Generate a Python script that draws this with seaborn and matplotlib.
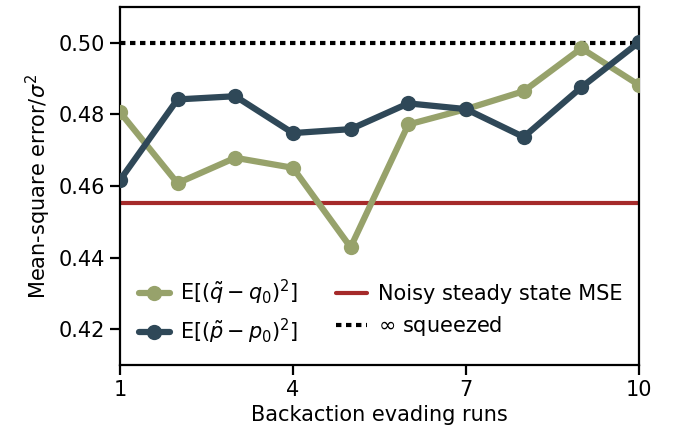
import matplotlib
matplotlib.use("Agg")
import matplotlib.pyplot as plt
import seaborn as sns
import pandas as pd
import numpy as np

runs = [1, 2, 3, 4, 5, 6, 7, 8, 9, 10]
q_mse = [0.4807, 0.4608, 0.4679, 0.4651, 0.4429, 0.4772, 0.4815, 0.4865, 0.4985, 0.4882]
p_mse = [0.4616, 0.4842, 0.4851, 0.4748, 0.4759, 0.4831, 0.4815, 0.4737, 0.4876, 0.5002]
steady_mse = 0.4552
squeezed_mse = 0.50
xticks = [1, 4, 7, 10]
yticks = [0.42, 0.44, 0.46, 0.48, 0.50]

sns.set_style("ticks", rc={'text.color': 'black', 'axes.labelcolor': 'black',
                           'xtick.color': 'black', 'ytick.color': 'black',
                           'axes.edgecolor': 'black'})
plt.rcParams['font.family'] = ['DejaVu Sans']
FS = 15
plt.rcParams['font.size'] = FS

green = "#97a26b"
blue = "#2f4858"
red = "#a52a2a"

fig = plt.figure(figsize=(6.77, 4.43), dpi=100)
ax = fig.add_axes([0.177, 0.176, 0.767, 0.808])

df = pd.DataFrame({"run": runs, "q": q_mse, "p": p_mse})
sns.lineplot(data=df, x="run", y="q", ax=ax, color=green, lw=4.5, marker="o",
             markersize=11, markeredgewidth=0, label=r"E$[(\tilde{q}-q_0)^2]$", zorder=3)
sns.lineplot(data=df, x="run", y="p", ax=ax, color=blue, lw=4.5, marker="o",
             markersize=11, markeredgewidth=0, label=r"E$[(\tilde{p}-p_0)^2]$", zorder=4)
ax.axhline(steady_mse, color=red, lw=3, label="Noisy steady state MSE", zorder=2)
ax.axhline(squeezed_mse, color="black", lw=3, ls=(0, (1.3, 1.1)), label=r"$\infty$ squeezed", zorder=2)

ax.set_xlim(1, 10)
ax.set_ylim(0.41, 0.51)
ax.set_xticks(xticks)
ax.set_yticks(yticks)
ax.set_yticklabels([f"{v:.2f}" for v in yticks])
ax.set_xlabel("Backaction evading runs", fontsize=FS)
ax.set_ylabel(r"Mean-square error/$\sigma^2$", fontsize=FS)
for s in ax.spines.values():
    s.set_linewidth(1.6)
ax.tick_params(width=1.6, length=7, labelsize=FS)

ax.legend(loc="lower left", ncol=2, frameon=False, fontsize=FS,
          bbox_to_anchor=(0.0, 0.0), columnspacing=1.8, handlelength=1.5,
          handletextpad=0.5, labelspacing=0.5)

fig.savefig("out.png", dpi=100)
